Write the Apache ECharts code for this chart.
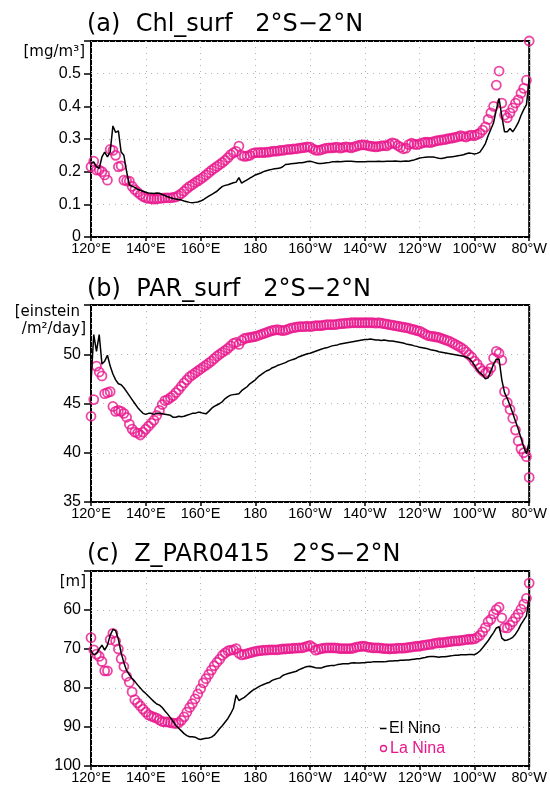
<!DOCTYPE html>
<html>
<head>
<meta charset="utf-8">
<script src="https://cdn.jsdelivr.net/npm/echarts@6/dist/echarts.min.js"></script>
<style>
  html, body { margin: 0; padding: 0; background: #fff; }
  #chart { width: 550px; height: 788px; }
</style>
</head>
<body>
<div id="chart"></div>
<script>
// Equatorial (2S-2N) zonal sections, 120E to 80W at 1 degree spacing
const lonStart = 120;
const lonCount = 161;
const xTickLabels = ['120°E', '140°E', '160°E', '180', '160°W', '140°W', '120°W', '100°W', '80°W'];

// (a) surface chlorophyll [mg/m3]
const chlElNino = [
  0.225,0.23,0.215,0.21,0.245,0.26,0.245,0.26,0.34,0.32,
  0.325,0.26,0.25,0.2,0.16,0.155,0.152,0.146,0.143,0.14,
  0.137,0.135,0.134,0.133,0.135,0.134,0.13,0.127,0.123,0.12,
  0.118,0.116,0.115,0.113,0.11,0.108,0.106,0.105,0.106,0.107,
  0.11,0.114,0.12,0.125,0.13,0.135,0.14,0.148,0.155,0.158,
  0.16,0.163,0.166,0.168,0.182,0.165,0.17,0.175,0.18,0.185,
  0.19,0.193,0.196,0.2,0.203,0.205,0.207,0.209,0.21,0.211,
  0.215,0.222,0.223,0.224,0.225,0.226,0.227,0.227,0.229,0.231,
  0.232,0.23,0.227,0.225,0.225,0.226,0.227,0.228,0.23,0.23,
  0.231,0.23,0.231,0.232,0.232,0.232,0.231,0.23,0.23,0.23,
  0.23,0.231,0.231,0.231,0.231,0.232,0.231,0.231,0.232,0.232,
  0.232,0.233,0.232,0.231,0.232,0.233,0.232,0.234,0.236,0.239,
  0.242,0.243,0.244,0.245,0.245,0.245,0.243,0.241,0.24,0.242,
  0.244,0.245,0.246,0.247,0.249,0.25,0.252,0.255,0.257,0.256,
  0.254,0.256,0.26,0.272,0.286,0.31,0.33,0.35,0.39,0.424,
  0.37,0.322,0.322,0.332,0.322,0.335,0.35,0.372,0.39,0.405,0.48
];
const chlLaNina = [
  0.215,0.232,0.205,0.205,0.2,0.19,0.174,0.268,0.265,0.25,
  0.215,0.218,0.174,0.172,0.171,0.155,0.145,0.137,0.13,0.124,
  0.12,0.118,0.117,0.116,0.117,0.118,0.119,0.12,0.12,0.12,
  0.121,0.123,0.127,0.133,0.14,0.148,0.155,0.16,0.166,0.172,
  0.177,0.183,0.19,0.197,0.204,0.21,0.216,0.222,0.228,0.235,
  0.243,0.252,0.258,0.262,0.278,0.25,0.247,0.248,0.25,0.256,
  0.258,0.258,0.259,0.258,0.26,0.26,0.262,0.263,0.263,0.265,
  0.265,0.267,0.268,0.268,0.27,0.27,0.272,0.273,0.274,0.276,
  0.275,0.27,0.266,0.265,0.267,0.27,0.272,0.273,0.273,0.274,
  0.275,0.272,0.274,0.276,0.275,0.273,0.276,0.278,0.281,0.282,
  0.282,0.28,0.278,0.277,0.276,0.277,0.279,0.28,0.279,0.284,
  0.288,0.286,0.28,0.275,0.27,0.272,0.283,0.287,0.284,0.283,
  0.285,0.288,0.29,0.29,0.289,0.292,0.294,0.296,0.297,0.298,
  0.3,0.302,0.303,0.305,0.307,0.31,0.308,0.306,0.31,0.312,
  0.31,0.314,0.318,0.327,0.337,0.36,0.38,0.4,0.465,0.508,
  0.41,0.373,0.365,0.38,0.395,0.41,0.42,0.44,0.455,0.48,0.6
];

// (b) surface PAR [einstein/m2/day]
const parElNino = [
  47.1,52,50.3,52,49,49.3,49.9,48.8,48,47.4,
  47,46.9,46.6,46.2,45.8,45.4,45,44.6,44.3,44,
  43.9,44,44,43.9,44,44,43.95,43.9,43.85,43.8,
  43.6,43.6,43.7,43.65,43.7,43.8,43.9,44,44,44.1,
  44.1,44,43.95,44.2,44.5,44.7,44.85,45,45.2,45.5,
  45.7,45.85,45.9,45.95,46,46.3,46.5,46.7,47,47.2,
  47.4,47.7,47.9,48.1,48.3,48.4,48.6,48.7,48.85,48.95,
  49.05,49.15,49.3,49.4,49.5,49.6,49.75,49.85,49.95,50.05,
  50.1,50.2,50.3,50.4,50.5,50.6,50.65,50.75,50.85,50.9,
  50.95,51.05,51.1,51.15,51.2,51.25,51.3,51.35,51.4,51.45,
  51.5,51.5,51.55,51.5,51.45,51.45,51.4,51.45,51.4,51.35,
  51.35,51.3,51.25,51.2,51.15,51.05,51,50.95,50.85,50.8,
  50.7,50.65,50.6,50.55,50.45,50.4,50.35,50.25,50.2,50.15,
  50.1,50.05,50,49.95,49.9,49.85,49.8,49.7,49.6,49.3,
  48.9,48.4,48.1,47.9,47.5,47.6,48.3,49,49.5,49.5,
  47.4,46.1,45.5,44.8,44,43.2,42.4,41.5,40.6,39.9,41.1
];
const parLaNina = [
  43.7,45.4,48.8,48.2,47.8,46,46.1,46.2,44.7,44.2,
  44.3,44.2,44,43.6,42.9,42.4,42.1,42,41.8,42.1,
  42.4,42.7,43,43.3,43.8,44.3,44.9,45.3,45.4,45.6,
  45.8,46.1,46.4,46.75,47.1,47.4,47.7,47.9,48.1,48.3,
  48.5,48.7,48.9,49.1,49.3,49.55,49.8,50,50.2,50.4,
  50.6,50.85,51.1,51.2,51,51.4,51.6,51.65,51.7,51.75,
  51.8,51.9,52,52.1,52.2,52.3,52.4,52.45,52.5,52.45,
  52.4,52.45,52.55,52.65,52.7,52.75,52.8,52.8,52.8,52.85,
  52.8,52.85,52.9,52.9,52.9,52.95,53,53,53,53,
  53.05,53.1,53.1,53.15,53.15,53.2,53.2,53.2,53.2,53.2,
  53.2,53.2,53.2,53.2,53.15,53.2,53.15,53.1,53.05,53,
  52.95,52.9,52.85,52.8,52.75,52.7,52.65,52.55,52.5,52.4,
  52.35,52.2,52.05,51.9,51.85,51.8,51.75,51.7,51.6,51.5,
  51.4,51.3,51.15,51,50.85,50.7,50.5,50.25,49.95,49.7,
  49.3,49,48.6,48.3,48.1,48.2,48.6,49.6,50.3,50.1,
  49.4,46.2,45.1,44.4,43.5,42.3,41.2,40.4,40,39.6,37.5
];

// (c) depth of the 0.415 PAR level [m]
const zElNino = [
  70.5,71.5,71.2,70,69,70.3,69,66.5,65,65.3,
  67.5,71,73.5,75.5,76.6,77.6,78.3,79.2,80,80.8,
  81.4,82.1,82.8,83.5,84.1,84.4,85,85.9,86.7,87.6,
  88.6,89.6,90.3,91,91.7,92.2,92.5,92.5,92.6,93,
  93.2,93,92.9,92.8,92.6,92.1,91.3,90.4,89.6,88.7,
  87.8,86.6,85.2,81.8,83.2,82.8,82.4,81.8,81.2,80.6,
  80.2,79.8,79.4,79.1,78.8,78.6,78.1,77.8,77.6,77.4,
  76.8,76.5,76.3,76.1,75.9,75.7,75.3,75,74.7,74.5,
  74.4,74.6,74.8,74.9,74.9,74.6,74.4,74.3,74.2,74.2,
  74,73.9,73.8,73.8,73.8,73.6,73.5,73.6,73.6,73.5,
  73.5,73.4,73.4,73.3,73.3,73.3,73.3,73.3,73.2,73.1,
  73.1,73,73,72.9,72.9,72.8,72.8,72.7,72.6,72.5,
  72.5,72.3,72.2,72,71.9,71.9,72,72.1,72,72,
  71.9,71.8,71.7,71.6,71.6,71.5,71.5,71.45,71.4,71.4,
  71.45,71.1,70.5,69.7,68.8,67.9,66.8,65.8,64.6,64.3,
  67.2,67.8,67.7,67.4,67,66.2,65.1,63.7,62.6,61.5,56.7
];
const zLaNina = [
  67.1,70.2,71.3,71.9,73.2,75.6,75.6,67.6,66,68,
  70,72.5,74.5,77,78.5,81,83,83.8,84.6,85.4,
  86.2,86.9,87.2,87.5,87.7,88.2,88.6,88.7,88.7,88.9,
  89,89.1,88.9,88.3,87.4,86.2,85,84,82.8,81.5,
  80.2,78.7,77.6,76.5,75.4,74.3,73.4,72.6,71.6,71,
  70.5,70.3,70.2,69.9,71.1,71.5,71.4,71.2,71,70.8,
  70.6,70.5,70.4,70.3,70.3,70.2,70.2,70.2,70.2,70.1,
  70,70,69.9,69.9,69.8,69.8,69.7,69.7,69.5,69.3,
  69.1,69.6,70.3,70.1,69.9,69.8,69.7,69.7,69.7,69.7,
  69.8,69.9,69.9,69.9,69.9,69.9,69.7,69.5,69.4,69.3,
  69.3,69.5,69.6,69.7,69.7,69.7,69.8,69.9,69.9,70,
  69.9,69.9,69.8,69.8,69.8,69.7,69.6,69.5,69.4,69.3,
  69.3,69.1,69,68.9,68.8,68.6,68.5,68.4,68.4,68.3,
  68.2,68.1,68,67.9,67.9,67.8,67.7,67.6,67.5,67.5,
  67.4,67,66.5,65.6,64.5,63,62.4,61,59.9,59.3,
  62,64.5,64.6,63.9,63,62,61,59.8,58.5,57,53.1
];

const panelTitles = ['(a)  Chl_surf   2°S−2°N', '(b)  PAR_surf   2°S−2°N', '(c)  Z_PAR0415   2°S−2°N'];
const unitLabels = [['[mg/m³]'], ['[einstein', '/m²/day]'], ['[m]']];
const seriesNames = ['El Nino', 'La Nina'];

const PINK = '#e8178c';
const TICK_FONT = 'Liberation Sans, Arial, sans-serif';
const UNIT_FONT = 'DejaVu Sans, sans-serif';
const TITLE_FONT = 'DejaVu Sans, sans-serif';
const DOTS = { color: '#b4b4b4', type: [1, 5], width: 1 };

const lons = [];
for (let i = 0; i < lonCount; i++) lons.push(lonStart + i);
const pairs = vals => vals.map((v, i) => [lons[i], v]);

const panels = [
  { top: 41,  height: 196, min: 0,  max: 0.6, interval: 0.1, inverse: false, el: chlElNino, la: chlLaNina, titleTop: 13,
    units: [{ right: 85, cy: 52 }] },
  { top: 305, height: 197, min: 35, max: 55,  interval: 5,   inverse: false, el: parElNino, la: parLaNina, titleTop: 278,
    units: [{ right: 80, cy: 312 }, { right: 86, cy: 329 }] },
  { top: 571, height: 195, min: 50, max: 100, interval: 10,  inverse: true,  el: zElNino,   la: zLaNina,   titleTop: 543,
    units: [{ right: 86, cy: 582 }] }
];

const grid = [], xAxis = [], yAxis = [], series = [], title = [], graphic = [];

panels.forEach((p, i) => {
  grid.push({ left: 91, top: p.top, width: 441, height: p.height,
              show: true, borderColor: '#000', borderWidth: 2, backgroundColor: 'transparent' });
  xAxis.push({
    type: 'value', gridIndex: i, min: 120, max: 280, interval: 20,
    axisLine: { show: false },
    axisTick: { show: true, length: 4, lineStyle: { color: '#000', width: 1.5 } },
    axisLabel: { color: '#000', fontFamily: TICK_FONT, fontSize: 14.5, margin: 4,
                 formatter: v => xTickLabels[Math.round((v - 120) / 20)] },
    splitLine: { show: true, lineStyle: DOTS }
  });
  const hidden = p.inverse ? p.min : p.max;
  yAxis.push({
    type: 'value', gridIndex: i, min: p.min, max: p.max, interval: p.interval, inverse: p.inverse,
    axisLine: { show: false },
    axisTick: { show: true, length: 7, lineStyle: { color: '#000', width: 1.5 } },
    axisLabel: { color: '#000', fontFamily: TICK_FONT, fontSize: 16, margin: 10,
                 formatter: v => (Math.abs(v - hidden) < 1e-9 ? '' : String(Number(v.toFixed(2)))) },
    splitLine: { show: true, lineStyle: DOTS }
  });
  series.push({
    name: seriesNames[1], type: 'scatter', xAxisIndex: i, yAxisIndex: i,
    data: pairs(p.la), symbol: 'circle', symbolSize: 9, z: 2, silent: true,
    itemStyle: { color: 'rgba(0,0,0,0)', borderColor: PINK, borderWidth: 1.8 }
  });
  series.push({
    name: seriesNames[0], type: 'line', xAxisIndex: i, yAxisIndex: i,
    data: pairs(p.el), showSymbol: false, z: 3, silent: true,
    lineStyle: { color: '#000', width: 1.5 }
  });
  title.push({
    text: panelTitles[i], left: 87, top: p.titleTop, padding: 0,
    textStyle: { fontFamily: TITLE_FONT, fontWeight: 'normal', fontSize: 24, color: '#000' }
  });
  unitLabels[i].forEach((line, k) => {
    const u = p.units[k];
    graphic.push({
      type: 'text', x: u.right, y: u.cy,
      style: { text: line, font: '15px ' + UNIT_FONT, fill: '#000', align: 'right', verticalAlign: 'middle' }
    });
  });
});

// Legend in panel (c)
graphic.push(
  { type: 'line', shape: { x1: 380, y1: 728.5, x2: 386.5, y2: 728.5 }, style: { stroke: '#000', lineWidth: 1.5 } },
  { type: 'text', x: 389, y: 728.5, style: { text: seriesNames[0], font: '16px ' + TICK_FONT, fill: '#000', verticalAlign: 'middle' } },
  { type: 'circle', shape: { cx: 383.5, cy: 748.5, r: 3 }, style: { fill: 'none', stroke: PINK, lineWidth: 1.3 } },
  { type: 'text', x: 390, y: 749, style: { text: seriesNames[1], font: '16px ' + TICK_FONT, fill: PINK, verticalAlign: 'middle' } }
);

const chart = echarts.init(document.getElementById('chart'), null, { renderer: 'canvas' });
chart.setOption({
  animation: false,
  backgroundColor: '#fff',
  title, grid, xAxis, yAxis, series, graphic
});
</script>
</body>
</html>
